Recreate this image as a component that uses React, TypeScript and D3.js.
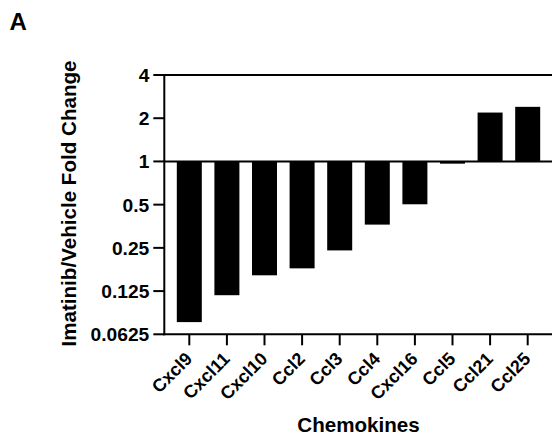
import React from "react";
import * as d3 from "d3";

const categories = ["Cxcl9", "Cxcl11", "Cxcl10", "Ccl2", "Ccl3", "Ccl4", "Cxcl16", "Ccl5", "Ccl21", "Ccl25"];
const foldChange = [0.076, 0.117, 0.161, 0.18, 0.24, 0.363, 0.503, 0.965, 2.19, 2.4];
const yTicks = [0.0625, 0.125, 0.25, 0.5, 1, 2, 4];
const yTickLabels = ["0.0625", "0.125", "0.25", "0.5", "1", "2", "4"];

const W = 552;
const H = 438;
const FONT = "'Liberation Sans', Arial, Helvetica, sans-serif";

export default function App() {
  const left = 164.3;
  const right = 552.7;
  const top = 75;
  const bottom = 334.3;

  const y = d3.scaleLog().base(2).domain([0.0625, 4]).range([bottom, top]);
  const x = d3.scalePoint<string>().domain(categories).range([left, right]).padding(0.665);
  const barW = 25;
  const y1 = y(1);

  return (
    <svg width={W} height={H} style={{ position: "absolute", left: 0, top: 0, background: "#fff" }}
      fontFamily={FONT} fontWeight="bold">
      <text x={9.5} y={29.5} fontSize={24}>A</text>

      {categories.map((c, i) => {
        const v = foldChange[i];
        const yv = y(v);
        const cx = x(c)!;
        return (
          <rect key={c} x={cx - barW / 2} y={Math.min(yv, y1)} width={barW}
            height={Math.max(Math.abs(yv - y1), 0.5)} fill="#000" />
        );
      })}

      {/* baseline at 1 */}
      <line x1={left} x2={W} y1={y1} y2={y1} stroke="#000" strokeWidth={2} />
      {/* top frame */}
      <line x1={left} x2={W} y1={top} y2={top} stroke="#000" strokeWidth={2} />
      {/* y axis */}
      <line x1={left} x2={left} y1={top - 1} y2={bottom + 1} stroke="#000" strokeWidth={2} />
      {/* x axis */}
      <line x1={left - 1} x2={W} y1={bottom} y2={bottom} stroke="#000" strokeWidth={2} />

      {yTicks.map((t, i) => (
        <g key={t}>
          <line x1={left - 11} x2={left} y1={y(t)} y2={y(t)} stroke="#000" strokeWidth={2} />
          <text x={left - 15} y={y(t)} dy="0.36em" textAnchor="end" fontSize={19.2}>{yTickLabels[i]}</text>
        </g>
      ))}

      {categories.map((c) => {
        const cx = x(c)!;
        return (
          <g key={c}>
            <line x1={cx} x2={cx} y1={bottom} y2={bottom + 11} stroke="#000" strokeWidth={2} />
            <text transform={`translate(${cx + 4},${360}) rotate(-45)`} textAnchor="end" fontSize={18}>{c}</text>
          </g>
        );
      })}

      <text x={(left + right) / 2} y={432} textAnchor="middle" fontSize={20.6}>Chemokines</text>
      <text transform={`translate(${76},${203.5}) rotate(-90)`} textAnchor="middle" fontSize={20.6}>
        Imatinib/Vehicle Fold Change
      </text>
    </svg>
  );
}
